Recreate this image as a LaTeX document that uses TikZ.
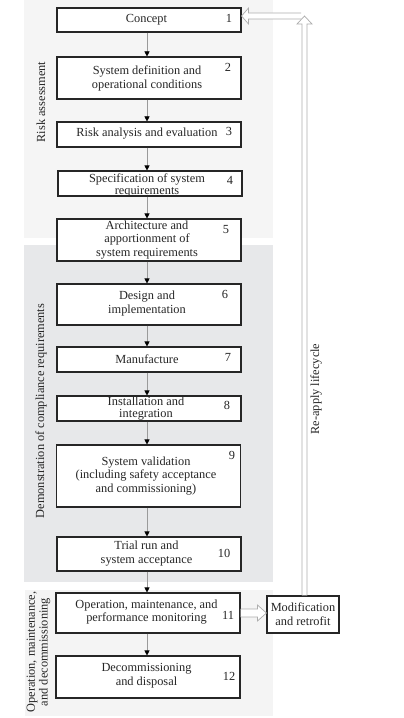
\documentclass[tikz,border=0pt]{standalone}
\usepackage{fontspec}
\setmainfont{Liberation Serif}
\usetikzlibrary{arrows.meta,calc}
\definecolor{riskbg}{HTML}{F5F5F5}
\definecolor{demobg}{HTML}{E7E8EA}
\definecolor{opbg}{HTML}{F4F4F4}
\definecolor{ink}{HTML}{262626}
\definecolor{connc}{HTML}{9A9A9A}
\definecolor{hollowc}{HTML}{ADADAD}
\begin{document}
\begin{tikzpicture}[x=1bp,y=-1bp,
  font=\fontsize{12.4}{14}\selectfont, text=ink,
  stepbox/.style={draw=ink, line width=1.1bp, fill=white, rectangle, minimum width=184bp, inner sep=0pt},
  steptext/.style={align=center, inner sep=0pt},
  num/.style={inner sep=0pt},
  modbox/.style={draw=ink, line width=1.1bp, fill=white, rectangle, minimum width=72bp, minimum height=37bp, inner sep=0pt, align=center},
  conn/.style={draw=connc, line width=0.6bp, -{Triangle[width=5bp,length=5bp,color=black]}},
  hollow/.style={draw=hollowc, line width=0.7bp, fill=white, line join=miter},
  sidelabel/.style={rotate=90, align=center, inner sep=0pt}
]
\useasboundingbox (0,0) rectangle (403,718);
% phase backgrounds
\fill[riskbg] (24,0) rectangle (273,238);
\fill[demobg] (24,245) rectangle (273,582);
\fill[opbg] (25,590) rectangle (273,716);

\node[sidelabel] (lrisk) at (41,102) {Risk assessment};
\node[sidelabel] (ldemo) at (41,411) {Demonstration of compliance requirements};
\node[sidelabel, font=\fontsize{12.4}{13}\selectfont] (lop) at (38.5,652) {Operation, maintenance,\\and decommissioning};
\node[sidelabel] (lre) at (316,389) {Re-apply lifecycle};

\coordinate (axis) at (147,0);

% boxes
\node[stepbox, minimum height=24bp] (b1) at (149,20) {};
\node[stepbox, minimum height=42bp] (b2) at (149,78) {};
\node[stepbox, minimum height=25bp] (b3) at (149,134.5) {};
\node[stepbox, minimum height=25bp] (b4) at (150,183.5) {};
\node[stepbox, minimum height=42bp] (b5) at (149,240) {};
\node[stepbox, minimum height=41bp] (b6) at (149,304.5) {};
\node[stepbox, minimum height=25bp] (b7) at (149,359.5) {};
\node[stepbox, minimum height=25bp] (b8) at (149,408.5) {};
\node[stepbox, minimum height=62bp] (b9) at (148.5,476) {};
\node[stepbox, minimum height=34bp] (b10) at (149,554) {};
\node[stepbox, minimum height=40bp] (b11) at (148,613) {};
\node[stepbox, minimum height=42bp] (b12) at (148,677) {};

% texts
\node[steptext] (t1) at (146.5,20) {Concept};
\node[steptext] (t2) at (147,78) {System definition and\\operational conditions};
\node[steptext] (t3) at (147,134) {Risk analysis and evaluation};
\node[steptext, font=\fontsize{12.4}{11.5}\selectfont] (t4) at (147,185.5) {Specification of system\\requirements};
\node[steptext, font=\fontsize{12.4}{13.5}\selectfont] (t5) at (147,240) {Architecture and\\apportionment of\\system requirements};
\node[steptext] (t6) at (147,304) {Design and\\implementation};
\node[steptext] (t7) at (147,359.5) {Manufacture};
\node[steptext, font=\fontsize{12.4}{11.5}\selectfont] (t8) at (146,408.5) {Installation and\\integration};
\node[steptext, font=\fontsize{12.4}{13.5}\selectfont] (t9) at (146,476) {System validation\\(including safety acceptance\\and commissioning)};
\node[steptext] (t10) at (146.5,554) {Trial run and\\system acceptance};
\node[steptext, font=\fontsize{12.4}{13}\selectfont] (t11) at (146.5,612) {Operation, maintenance, and\\performance monitoring};
\node[steptext] (t12) at (146.5,675.5) {Decommissioning\\and disposal};

% numbers
\node[num] (n1) at (229,18) {1};
\node[num] (n2) at (228,67) {2};
\node[num] (n3) at (229,131) {3};
\node[num] (n4) at (230,180) {4};
\node[num] (n5) at (226,230) {5};
\node[num] (n6) at (225,294) {6};
\node[num] (n7) at (228,357) {7};
\node[num] (n8) at (227,405) {8};
\node[num] (n9) at (232,455) {9};
\node[num] (n10) at (224,553) {10};
\node[num] (n11) at (228,615) {11};
\node[num] (n12) at (229,676) {12};

% modification box
\node[modbox] (mod) at (303,614.5) {Modification\\and retrofit};

% connectors
\foreach \a/\b in {b1/b2,b2/b3,b3/b4,b4/b5,b5/b6,b6/b7,b7/b8,b8/b9,b9/b10,b10/b11,b11/b12}
  \draw[conn] (\a.south -| axis) -- (\b.north -| axis);

% hollow arrow 11 -> modification
\draw[hollow] ($(b11.east)+(0,-4)$) -- ($(mod.west |- b11.east)+(-9,-4)$) -- ($(mod.west |- b11.east)+(-9,-8)$)
  -- (mod.west |- b11.east) -- ($(mod.west |- b11.east)+(-9,8)$) -- ($(mod.west |- b11.east)+(-9,4)$) -- ($(b11.east)+(0,4)$);

% re-apply lifecycle arrows
\coordinate (topref) at (0,16);
\coordinate (vtip) at ($(mod.north |- topref)+(1.5,0)$);
\coordinate (vbot) at ($(mod.north)+(1.5,0)$);
\coordinate (hstart) at (301,16);
\coordinate (htip) at (b1.east |- topref);
\draw[hollow] ($(hstart)+(0,-3)$) -- ($(htip)+(7,-3)$) -- ($(htip)+(7,-8)$) -- (htip)
  -- ($(htip)+(7,8)$) -- ($(htip)+(7,3)$) -- ($(hstart)+(0,3)$);
\draw[hollow] ($(vbot)+(-2.5,0)$) -- ($(vtip)+(-2.5,8)$) -- ($(vtip)+(-7.5,8)$) -- (vtip)
  -- ($(vtip)+(7.5,8)$) -- ($(vtip)+(2.5,8)$) -- ($(vbot)+(2.5,0)$);
\end{tikzpicture}
\end{document}
